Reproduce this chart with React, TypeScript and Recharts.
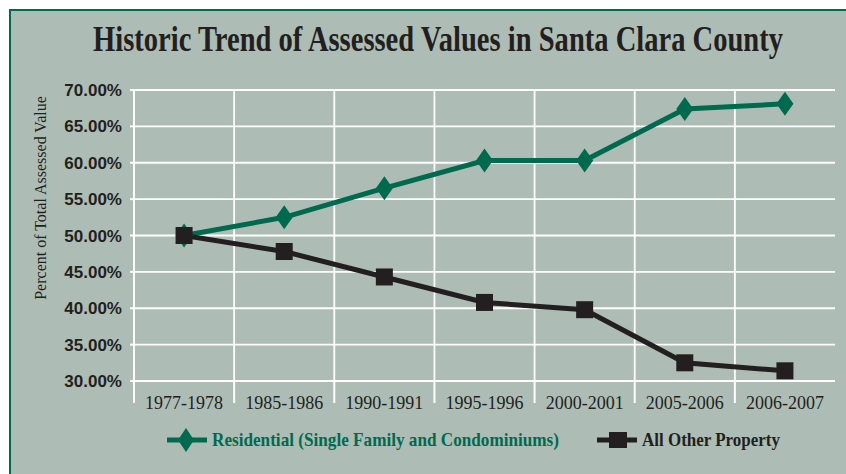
import React from "react";
import {
  CartesianGrid,
  Legend,
  Line,
  LineChart,
  XAxis,
  YAxis,
} from "recharts";

const periods = [
  "1977-1978",
  "1985-1986",
  "1990-1991",
  "1995-1996",
  "2000-2001",
  "2005-2006",
  "2006-2007",
];
const residential = [50.0, 52.5, 56.5, 60.3, 60.3, 67.4, 68.1];
const otherProperty = [50.0, 47.8, 44.3, 40.8, 39.8, 32.5, 31.4];
const yTicks = [30, 35, 40, 45, 50, 55, 60, 65, 70];

const GREEN = "#006a4e";
const BLACK = "#231f20";
const BG = "#adbdb5";

const data = periods.map((p, i) => ({
  period: p,
  residential: residential[i],
  other: otherProperty[i],
}));

const Diamond = (props: any) => {
  const { cx, cy } = props;
  if (cx == null || cy == null) return null;
  return (
    <polygon
      points={`${cx},${cy - 12} ${cx + 8.5},${cy} ${cx},${cy + 12} ${cx - 8.5},${cy}`}
      fill={GREEN}
    />
  );
};

const Square = (props: any) => {
  const { cx, cy } = props;
  if (cx == null || cy == null) return null;
  return <rect x={cx - 8.5} y={cy - 8.5} width={17} height={17} fill={BLACK} />;
};

// tick lines sit on the band edges, labels in the middle
const XTick = (props: any) => {
  const { x, y, payload, width, visibleTicksCount } = props;
  const bw = (width ?? 701) / (visibleTicksCount ?? periods.length);
  const edge = x - bw / 2;
  return (
    <g>
      <line x1={edge} y1={y} x2={edge} y2={y + 22} stroke="#fff" strokeWidth={2} />
      <text
        x={x}
        y={y + 28}
        textAnchor="middle"
        fill={BLACK}
        fontFamily="'Liberation Serif', serif"
        fontSize={18}
      >
        {payload.value}
      </text>
    </g>
  );
};

const YLabel = () => (
  <text
    x={40}
    y={198}
    transform="rotate(-90, 40, 198)"
    textAnchor="middle"
    dominantBaseline="central"
    fill={BLACK}
    fontFamily="'Liberation Serif', serif"
    fontSize={16}
  >
    Percent of Total Assessed Value
  </text>
);

const legendItems = [
  { label: "Residential (Single Family and Condominiums)", color: GREEN, x: 167, len: 347, shape: "diamond" },
  { label: "All Other Property", color: BLACK, x: 597, len: 138, shape: "square" },
];

const LegendContent = () => (
  <svg width={846} height={34}>
    {legendItems.map((it) => (
      <g key={it.label}>
        <line x1={it.x} y1={16} x2={it.x + 40} y2={16} stroke={it.color} strokeWidth={5} />
        {it.shape === "diamond" ? (
          <polygon
            points={`${it.x + 19},${4} ${it.x + 27},${16} ${it.x + 19},${28} ${it.x + 11},${16}`}
            fill={it.color}
          />
        ) : (
          <rect x={it.x + 12} y={8} width={18} height={16} fill={it.color} />
        )}
        <text
          x={it.x + 45}
          y={22}
          fill={it.color}
          fontFamily="'Liberation Serif', serif"
          fontWeight="bold"
          fontSize={19}
          textLength={it.len}
          lengthAdjust="spacingAndGlyphs"
        >
          {it.label}
        </text>
      </g>
    ))}
  </svg>
);

export default function App() {
  return (
    <div
      style={{
        position: "absolute",
        left: 0,
        top: 0,
        width: 846,
        height: 474,
        background: "#fff",
        overflow: "hidden",
      }}
    >
      <div
        style={{
          position: "absolute",
          left: 9,
          top: 9,
          width: 846,
          height: 474,
          background: BG,
          borderTop: `2px solid ${GREEN}`,
          borderLeft: `2px solid ${GREEN}`,
        }}
      />
      <svg
        width={846}
        height={80}
        style={{ position: "absolute", left: 0, top: 0 }}
      >
        <text
          x={93}
          y={51}
          fill={BLACK}
          fontFamily="'Liberation Serif', serif"
          fontWeight="bold"
          fontSize={35}
          textLength={690}
          lengthAdjust="spacingAndGlyphs"
        >
          Historic Trend of Assessed Values in Santa Clara County
        </text>
      </svg>
      <div style={{ position: "absolute", left: 0, top: 0 }}>
        <LineChart
          width={846}
          height={474}
          data={data}
          margin={{ top: 90, right: 11, left: 0, bottom: 63 }}
        >
          <CartesianGrid
            stroke="#fff"
            strokeWidth={1.8}
            verticalCoordinatesGenerator={({ offset }: any) =>
              periods.slice(1).map((_, i) => offset.left + ((i + 1) * offset.width) / periods.length)
            }
          />
          <XAxis
            dataKey="period"
            scale="band"
            height={30}
            axisLine={{ stroke: "#fff", strokeWidth: 2 }}
            tickLine={false}
            tickSize={0}
            tickMargin={0}
            interval={0}
            tick={<XTick />}
          />
          <YAxis
            width={134}
            domain={[30, 70]}
            ticks={yTicks}
            interval={0}
            axisLine={{ stroke: "#fff", strokeWidth: 2 }}
            tickLine={{ stroke: "#fff", strokeWidth: 2 }}
            tickSize={4}
            tickMargin={8}
            tickFormatter={(v: number) => `${v.toFixed(2)}%`}
            tick={{
              fill: BLACK,
              fontFamily: "'Liberation Sans', Arial, sans-serif",
              fontWeight: "bold",
              fontSize: 17,
            }}
            label={<YLabel />}
          />
          <Legend
            layout="horizontal"
            verticalAlign="middle"
            align="center"
            wrapperStyle={{ position: "absolute", top: 424, left: 0, width: 846 }}
            content={<LegendContent />}
          />
          <Line
            type="linear"
            dataKey="residential"
            stroke={GREEN}
            strokeWidth={5}
            dot={<Diamond />}
            activeDot={false}
            isAnimationActive={false}
          />
          <Line
            type="linear"
            dataKey="other"
            stroke={BLACK}
            strokeWidth={5}
            dot={<Square />}
            activeDot={false}
            isAnimationActive={false}
          />
        </LineChart>
      </div>
    </div>
  );
}
